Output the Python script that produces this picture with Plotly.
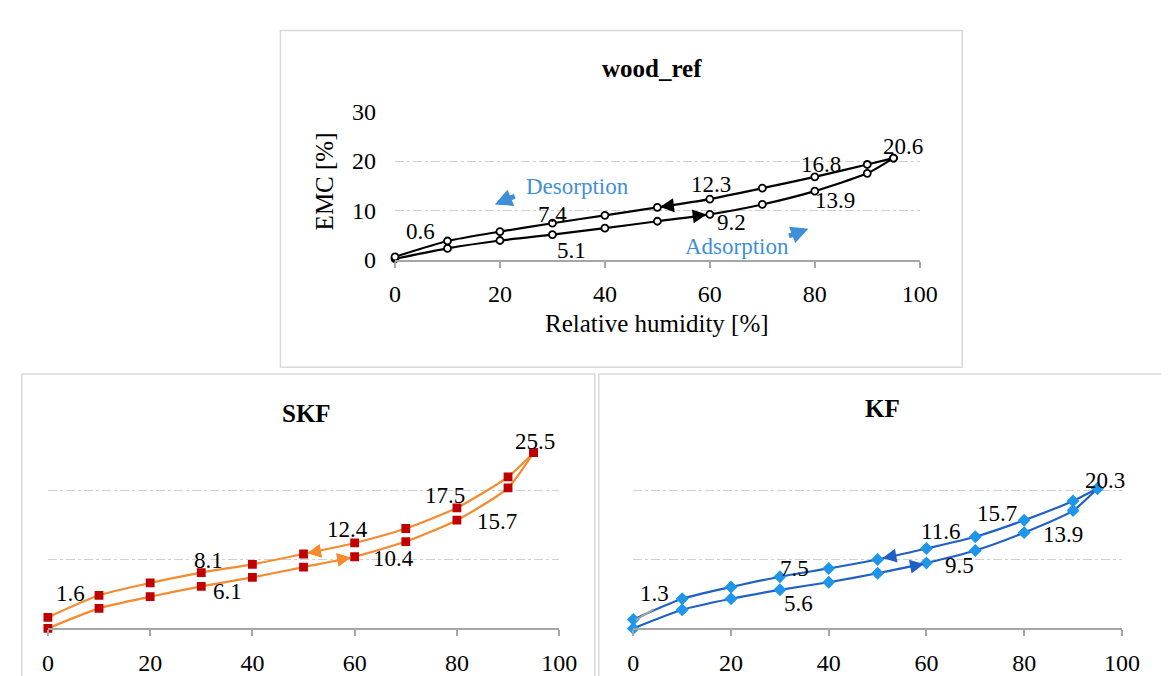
import plotly.graph_objects as go

# ---------------- data ----------------
rh_ads = [0, 10, 20, 30, 40, 50, 60, 70, 80, 90, 95]
rh_des = [95, 90, 80, 70, 60, 50, 40, 30, 20, 10, 0]

wood_ads = [0.2, 2.3, 3.9, 5.1, 6.4, 7.8, 9.2, 11.2, 13.9, 17.5, 20.6]
wood_des = [20.6, 19.3, 16.8, 14.5, 12.3, 10.6, 9.0, 7.4, 5.7, 3.8, 0.6]

skf_ads = [0.0, 2.9, 4.6, 6.1, 7.4, 8.9, 10.4, 12.6, 15.7, 20.4, 25.5]
skf_des = [25.5, 22.0, 17.5, 14.5, 12.4, 10.8, 9.3, 8.1, 6.6, 4.8, 1.6]

kf_ads = [0.0, 2.7, 4.3, 5.6, 6.7, 8.0, 9.5, 11.3, 13.9, 17.1, 20.3]
kf_des = [20.3, 18.5, 15.7, 13.3, 11.6, 10.0, 8.7, 7.5, 6.0, 4.3, 1.3]

x_ticks = [0, 20, 40, 60, 80, 100]
y_ticks = [0, 10, 20, 30]

titles = ["wood_ref", "SKF", "KF"]

# labelled values (text) and where they are drawn
wood_labels = ["0.6", "7.4", "5.1", "12.3", "9.2", "16.8", "13.9", "20.6"]
skf_labels = ["1.6", "8.1", "6.1", "12.4", "10.4", "17.5", "15.7", "25.5"]
kf_labels = ["1.3", "7.5", "5.6", "11.6", "9.5", "15.7", "13.9", "20.3"]

wood_lab_pos = [(4.8, 5.7), (30.0, 9.1), (33.6, 1.8), (60.2, 15.3), (64.2, 7.5),
                (81.1, 19.2), (83.8, 12.1), (96.9, 22.9)]
skf_lab_pos = [(4.5, 5.1), (31.4, 9.9), (35.2, 5.35), (58.6, 14.3), (67.6, 10.1),
               (77.6, 19.3), (87.8, 15.5), (95.2, 27.1)]
kf_lab_pos = [(4.3, 5.1), (33.0, 8.7), (33.9, 3.6), (62.9, 14.1), (66.7, 9.2),
              (74.4, 16.7), (87.9, 13.6), (96.5, 21.4)]

W, H = 1169, 676
def px(x):
    return x / W
def py(y):
    return 1 - y / H

FONT = "Liberation Serif"

fig = go.Figure()

panels = [
    dict(ads=wood_ads, des=wood_des, line="#000000", mk_sym="circle", mk_fill="#FFFFFF",
         mk_line="#000000", mk_size=7, xa="x", ya="y"),
    dict(ads=skf_ads, des=skf_des, line="#F58A2E", mk_sym="square", mk_fill="#C00000",
         mk_line="#C00000", mk_size=7, xa="x2", ya="y2"),
    dict(ads=kf_ads, des=kf_des, line="#1F60C4", mk_sym="diamond", mk_fill="#1E96EA",
         mk_line="#1E96EA", mk_size=8, xa="x3", ya="y3"),
]

for p in panels:
    for xs, ys in ((rh_ads, p["ads"]), (rh_des, p["des"])):
        fig.add_trace(go.Scatter(
            x=xs, y=ys, mode="lines+markers", xaxis=p["xa"], yaxis=p["ya"],
            line=dict(color=p["line"], width=2.2, shape="spline", smoothing=0.6),
            marker=dict(symbol=p["mk_sym"], size=p["mk_size"], color=p["mk_fill"],
                        line=dict(color=p["mk_line"], width=1.8)),
            cliponaxis=False, showlegend=False, hoverinfo="skip"))

axis_common = dict(range=[0, 100], tickvals=x_ticks, showgrid=False, zeroline=False,
                   showline=True, linecolor="#A6A6A6", linewidth=1.5,
                   ticks="outside", ticklen=6, tickcolor="#A6A6A6", tickwidth=1.5,
                   tickfont=dict(family=FONT, size=24, color="#000000"),
                   ticklabelstandoff=6)
yaxis_common = dict(range=[0, 30], tickvals=y_ticks, showgrid=True, gridcolor="#D0D0D0",
                    griddash="dashdot", gridwidth=1, zeroline=False, showline=False,
                    tickfont=dict(family=FONT, size=24, color="#000000"))

fig.update_layout(
    width=W, height=H, margin=dict(l=0, r=0, t=0, b=0),
    paper_bgcolor="#FFFFFF", plot_bgcolor="#FFFFFF",
    xaxis=dict(domain=[px(389), px(924.7)], anchor="y", **axis_common),
    yaxis=dict(domain=[py(248.3), py(94.3)], anchor="x", showticklabels=True,
               ticklabelstandoff=18, **yaxis_common),
    xaxis2=dict(domain=[px(34.6), px(556.6)], anchor="y2", **axis_common),
    yaxis2=dict(domain=[py(631.7), py(416.7)], anchor="x2", showticklabels=False,
                **yaxis_common),
    xaxis3=dict(domain=[px(632.3), px(1131.1)], anchor="y3", **axis_common),
    yaxis3=dict(domain=[py(631.7), py(416.7)], anchor="x3", showticklabels=False,
                **yaxis_common),
)

C = dict(xanchor="center", yanchor="middle")
ann = []
# value labels
for labels, pos, xr, yr in ((wood_labels, wood_lab_pos, "x", "y"),
                            (skf_labels, skf_lab_pos, "x2", "y2"),
                            (kf_labels, kf_lab_pos, "x3", "y3")):
    for t, (lx, ly) in zip(labels, pos):
        ann.append(dict(text=t, x=lx, y=ly, xref=xr, yref=yr, showarrow=False,
                        font=dict(family=FONT, size=23, color="#000000"), **C))

# panel titles
for t, (tx, ty) in zip(titles, [(651.5, 49.3), (299, 408), (886.8, 403)]):
    ann.append(dict(text="<b>" + t + "</b>", x=px(tx), y=py(ty), xref="paper", yref="paper",
                    showarrow=False, font=dict(family=FONT, size=25, color="#000000"), **C))

# axis titles of top panel
ann.append(dict(text="Relative humidity [%]", x=px(656), y=py(315), xref="paper", yref="paper",
                showarrow=False, font=dict(family=FONT, size=25, color="#000000"), **C))
ann.append(dict(text="EMC [%]", x=px(316.6), y=py(166.7), xref="paper", yref="paper",
                showarrow=False, textangle=-90,
                font=dict(family=FONT, size=25, color="#000000"), **C))

# Desorption / Adsorption
BLUE = "#3F8FD8"
ann.append(dict(text="Desorption", x=34.7, y=14.9, xref="x", yref="y", showarrow=False,
                font=dict(family=FONT, size=23, color=BLUE), **C))
ann.append(dict(text="Adsorption", x=65.1, y=2.6, xref="x", yref="y", showarrow=False,
                font=dict(family=FONT, size=23, color=BLUE), **C))
ann.append(dict(text="", x=19.0, y=11.2, ax=23.1, ay=13.0, xref="x", yref="y",
                axref="x", ayref="y", showarrow=True, arrowhead=2, arrowsize=0.7,
                arrowwidth=5, arrowcolor=BLUE))
ann.append(dict(text="", x=78.8, y=6.3, ax=74.8, ay=4.7, xref="x", yref="y",
                axref="x", ayref="y", showarrow=True, arrowhead=2, arrowsize=0.7,
                arrowwidth=5, arrowcolor=BLUE))

# direction arrows on the curves
for xr, yr, col, d_tip, d_tail, a_tip, a_tail in (
        ("x", "y", "#000000", (50.5, 10.7), (53.5, 11.1), (59.4, 9.15), (56.4, 8.75)),
        ("x2", "y2", "#F58A2E", (50.7, 10.9), (53.7, 11.3), (59.3, 10.3), (56.3, 9.9)),
        ("x3", "y3", "#1F60C4", (51.0, 10.2), (54.0, 10.6), (59.5, 9.35), (56.5, 8.95))):
    for tip, tail in ((d_tip, d_tail), (a_tip, a_tail)):
        ann.append(dict(text="", x=tip[0], y=tip[1], ax=tail[0], ay=tail[1], xref=xr, yref=yr,
                        axref=xr, ayref=yr, showarrow=True, arrowhead=2, arrowsize=1.4,
                        arrowwidth=2, arrowcolor=col))

fig.update_layout(annotations=ann)

shapes = []
# panel frames
for x0, y0, x1, y1 in ((272, 10, 968, 360), (8, 367, 593, 690), (597, 367, 1180, 690)):
    shapes.append(dict(type="rect", xref="paper", yref="paper", x0=px(x0), x1=px(x1),
                       y0=py(y1), y1=py(y0), line=dict(color="#D9D9D9", width=1.5),
                       fillcolor="rgba(0,0,0,0)", layer="below"))
# small leader line for the KF 1.3 label
shapes.append(dict(type="line", xref="x3", yref="y3", x0=0.5, y0=1.2, x1=4.2, y1=2.8,
                   line=dict(color="#A6A6A6", width=2)))
fig.update_layout(shapes=shapes)

fig.write_html("out.html")
